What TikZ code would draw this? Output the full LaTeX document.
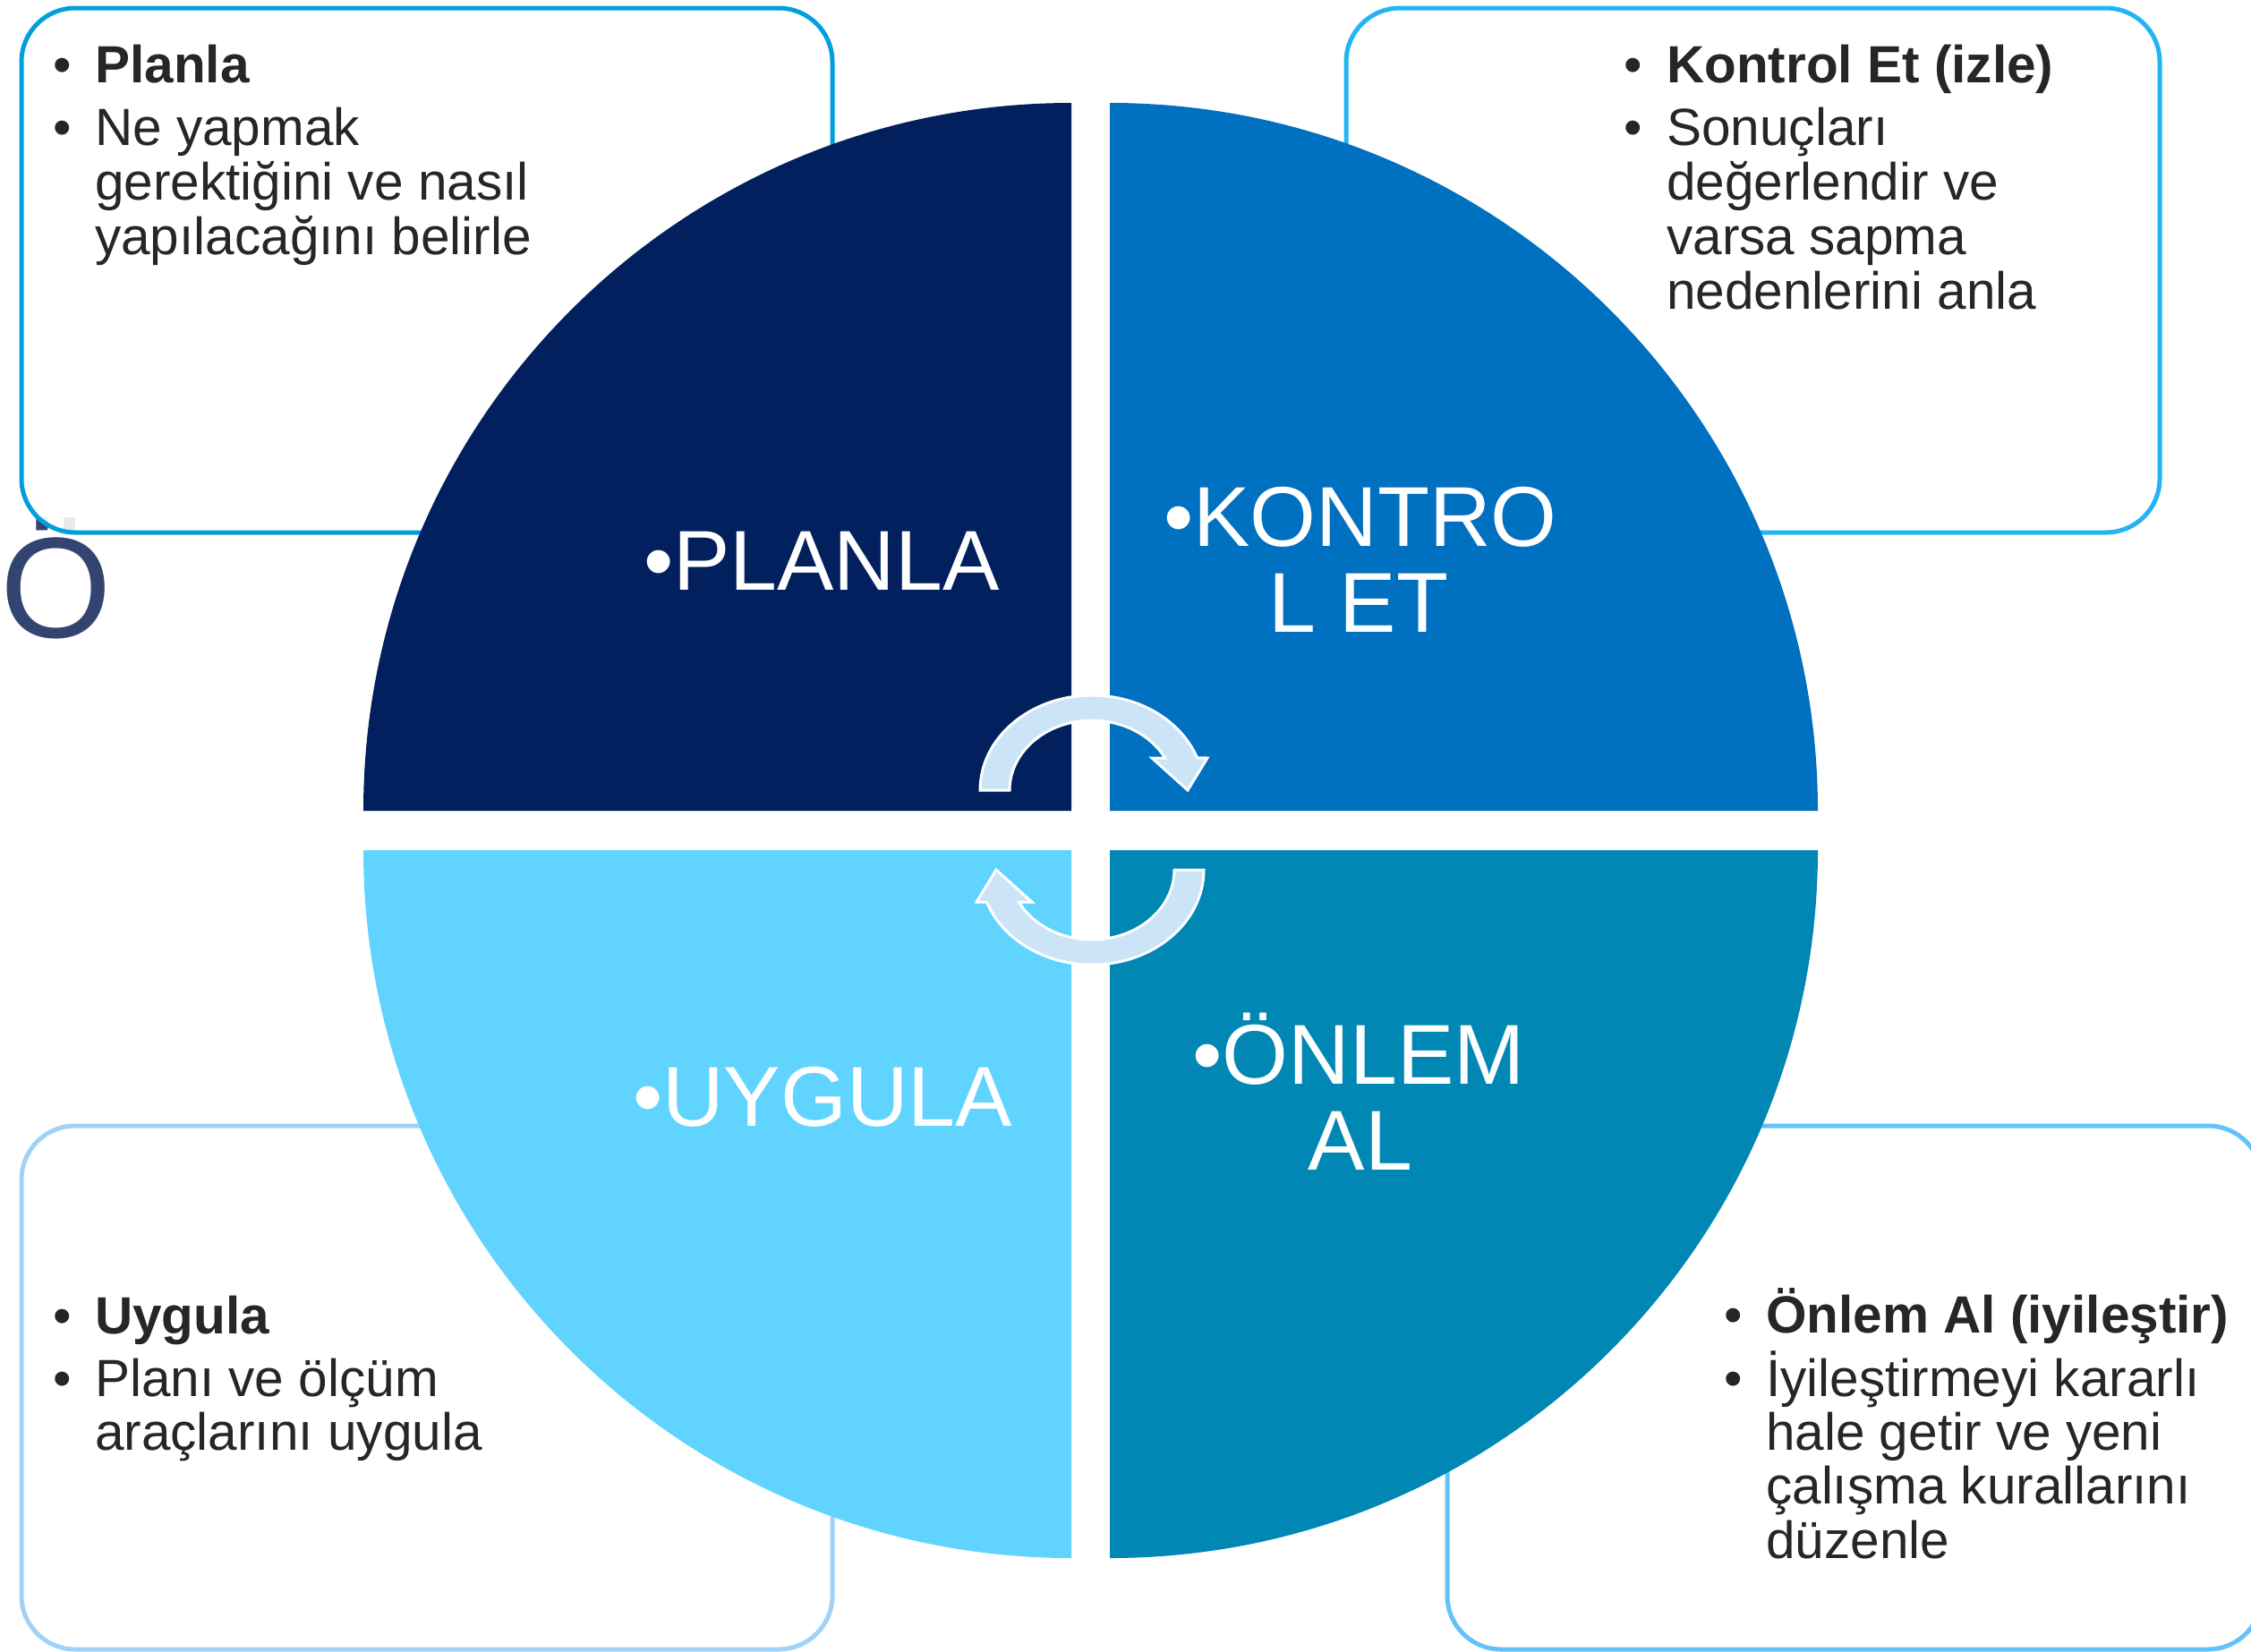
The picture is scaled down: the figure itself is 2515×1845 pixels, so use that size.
\documentclass[tikz,border=0pt]{standalone}
\usepackage{fontspec}
\setmainfont{Liberation Sans}
\definecolor{qnavy}{RGB}{2,32,94}
\definecolor{qblue}{RGB}{0,112,192}
\definecolor{qsky}{RGB}{96,212,255}
\definecolor{qteal}{RGB}{0,135,180}
\definecolor{arrowfill}{RGB}{204,228,248}
\definecolor{boxtext}{RGB}{38,38,38}
\definecolor{ocolor}{RGB}{52,68,112}
\definecolor{lineTL}{RGB}{0,160,220}
\definecolor{lineTR}{RGB}{34,180,245}
\definecolor{lineBL}{RGB}{160,210,248}
\definecolor{lineBR}{RGB}{100,194,248}
\begin{document}
\begin{tikzpicture}[x=1pt,y=-1pt,
  qlabel/.style={font=\fontsize{95}{95}\selectfont, text=white, inner sep=0pt, anchor=base},
  bline/.style={font=\fontsize{58.5}{61}\selectfont, text=boxtext, inner sep=0pt, anchor=base west},
  bhead/.style={bline, font=\fontsize{58.5}{61}\selectfont\bfseries},
  bbul/.style={font=\fontsize{58.5}{61}\selectfont, text=boxtext, inner sep=0pt, anchor=base},
  infobox/.style={draw, line width=5pt, rounded corners=60pt, fill=white, fill opacity=0.89,
    minimum height=586pt, inner sep=0pt},
  cyc/.style={fill=arrowfill, draw=white, line width=3pt, line join=miter}
]
\useasboundingbox (0,0) rectangle (2515,1845);

% stray letter at the left
\node[font=\fontsize{160}{160}\selectfont, text=ocolor, inner sep=0pt, anchor=base west] (oletter) at (0,712) {Ö};

% text boxes
\node[infobox, draw=lineTL, minimum width=906pt] (boxTL) at (477,302) {};
\node[infobox, draw=lineTR, minimum width=909pt] (boxTR) at (1958.5,302) {};
\node[infobox, draw=lineBL, minimum width=906pt, minimum height=585pt] (boxBL) at (477,1550.5) {};
\node[infobox, draw=lineBR, minimum width=910pt, minimum height=585pt] (boxBR) at (2072,1550.5) {};

% quadrants
\fill[qnavy] (1197,906) -- (406,906) arc[start angle=180, end angle=270, radius=791] -- cycle;
\fill[qblue] (1240,906) -- (1240,115) arc[start angle=270, end angle=360, radius=791] -- cycle;
\fill[qteal] (1240,950) -- (2031,950) arc[start angle=0, end angle=90, radius=791] -- cycle;
\fill[qsky] (1197,950) -- (1197,1741) arc[start angle=90, end angle=180, radius=791] -- cycle;

% quadrant labels
\node[qlabel] (lplan) at (918,659) {•PLANLA};
\node[qlabel] (lkon1) at (1520,610) {•KONTRO};
\node[qlabel] (lkon2) at (1518,706) {L ET};
\node[qlabel] (lonl1) at (1518,1211) {•ÖNLEM};
\node[qlabel] (lonl2) at (1520,1307) {AL};
\node[qlabel] (luyg) at (919,1258) {•UYGULA};

% cycle arrows
\begin{scope}[shift={(1220,883)}]
  \path[cyc] (-125,0) arc[start angle=180, end angle=340, x radius=125, y radius=106]
    -- (129,-36) -- (107,0) -- (67,-36) -- (332.5:92 and 78)
    arc[start angle=332.5, end angle=180, x radius=92, y radius=78] -- cycle;
\end{scope}
\begin{scope}[shift={(1220,972)}, rotate=180]
  \path[cyc] (-125,0) arc[start angle=180, end angle=340, x radius=125, y radius=106]
    -- (129,-36) -- (107,0) -- (67,-36) -- (332.5:92 and 78)
    arc[start angle=332.5, end angle=180, x radius=92, y radius=78] -- cycle;
\end{scope}

% top-left box text
\node[bbul] (tlb1) at (69.5,92) {•};
\node[bhead] (tl1) at (106,92) {Planla};
\node[bbul] (tlb2) at (69.5,162) {•};
\node[bline] (tl2) at (106,162) {Ne yapmak};
\node[bline] (tl3) at (106,223) {gerektiğini ve nasıl};
\node[bline] (tl4) at (106,284) {yapılacağını belirle};

% top-right box text
\node[bbul] (trb1) at (1824.5,92) {•};
\node[bhead] (tr1) at (1862,92) {Kontrol Et (izle)};
\node[bbul] (trb2) at (1824.5,162) {•};
\node[bline] (tr2) at (1862,162) {Sonuçları};
\node[bline] (tr3) at (1862,223) {değerlendir ve};
\node[bline] (tr4) at (1862,284) {varsa sapma};
\node[bline] (tr5) at (1862,345) {nedenlerini anla};

% bottom-left box text
\node[bbul] (blb1) at (69.5,1490) {•};
\node[bhead] (bl1) at (106,1490) {Uygula};
\node[bbul] (blb2) at (69.5,1560) {•};
\node[bline] (bl2) at (106,1560) {Planı ve ölçüm};
\node[bline] (bl3) at (106,1620) {araçlarını uygula};

% bottom-right box text
\node[bbul] (brb1) at (1937,1489) {•};
\node[bhead] (br1) at (1973,1489) {Önlem Al (iyileştir)};
\node[bbul] (brb2) at (1937,1560) {•};
\node[bline] (br2) at (1973,1560) {İyileştirmeyi kararlı};
\node[bline] (br3) at (1973,1620) {hale getir ve yeni};
\node[bline] (br4) at (1973,1680) {çalışma kurallarını};
\node[bline] (br5) at (1973,1741) {düzenle};
\end{tikzpicture}
\end{document}
